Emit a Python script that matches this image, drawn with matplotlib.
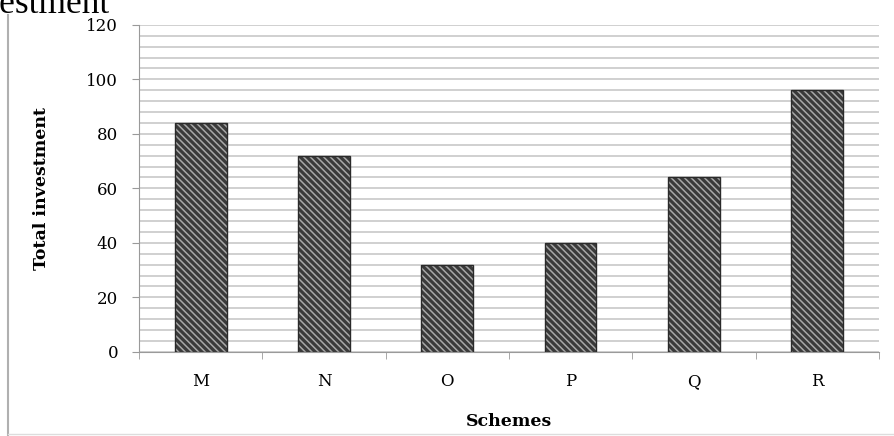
import numpy as np
import matplotlib.pyplot as plt
from matplotlib.lines import Line2D

# Data
schemes = ['M', 'N', 'O', 'P', 'Q', 'R']
investment = [84, 72, 32, 40, 64, 96]
y_ticks = [0, 20, 40, 60, 80, 100, 120]

plt.rcParams['font.family'] = ['DejaVu Serif']
plt.rcParams['hatch.linewidth'] = 1.1

fig = plt.figure(figsize=(8.94, 4.36), dpi=100)
ax = fig.add_axes([0.1555, 0.193, 0.8275, 0.75])

x = np.arange(len(schemes))

# Gridlines every 4 units
ax.set_ylim(0, 120)
ax.set_yticks(y_ticks)
ax.set_yticks(np.arange(0, 121, 4), minor=True)
ax.yaxis.grid(True, which='both', color='#c4c4c4', linewidth=1.1)
ax.set_axisbelow(True)

# Hatched bars: dark fill with fine light diagonal streaks, then a dark outline
ax.bar(x, investment, width=0.42, color='#3a3a3a', edgecolor='#a8a8a8',
       hatch='\\\\\\\\\\', linewidth=0, zorder=2)
ax.bar(x, investment, width=0.42, fill=False, edgecolor='#2a2a2a',
       linewidth=1.0, zorder=3)

ax.set_xlim(-0.5, len(schemes) - 0.5)
ax.set_xticks(x)
ax.set_xticklabels(schemes, fontsize=12)
ax.set_xticks(np.arange(-0.5, len(schemes), 1), minor=True)
ax.tick_params(axis='x', which='major', length=0, pad=15)
ax.tick_params(axis='x', which='minor', length=5, color='#9a9a9a')
ax.tick_params(axis='y', which='major', length=5, color='#9a9a9a', labelsize=12, pad=10)
ax.tick_params(axis='y', which='minor', length=0)

for side in ['top', 'right']:
    ax.spines[side].set_visible(False)
ax.spines['left'].set_color('#9a9a9a')
ax.spines['bottom'].set_color('#9a9a9a')

ax.set_ylabel('Total investment', fontsize=12.5, fontweight='bold', labelpad=26)
ax.set_xlabel('Schemes', fontsize=12.5, fontweight='bold', labelpad=17)

# Cut-off heading at the top left and the page frame
fig.text(0.123, 0.970, 'Investment', fontsize=25.5, ha='right', va='baseline',
         family='Liberation Serif')
fig.add_artist(Line2D([0.009, 0.009], [0.0, 0.965], transform=fig.transFigure,
                      color='#b0b0b0', linewidth=1.5))
fig.add_artist(Line2D([0.009, 1.0], [0.005, 0.005], transform=fig.transFigure,
                      color='#dddddd', linewidth=1.0))

fig.savefig('out.png', dpi=100)
